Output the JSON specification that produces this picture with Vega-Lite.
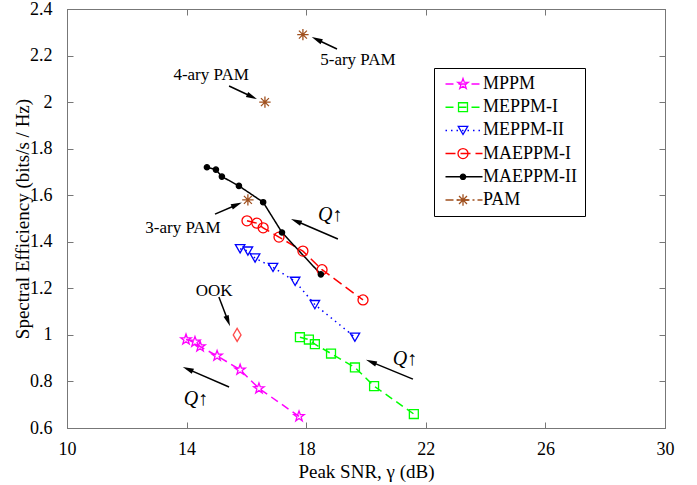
{
  "$schema": "https://vega.github.io/schema/vega-lite/v6.json",
  "width": 598,
  "height": 419,
  "autosize": {"type": "none"},
  "padding": {"left": 67, "top": 9, "right": 32, "bottom": 57},
  "background": "white",
  "config": {
    "view": {"stroke": "#777", "strokeWidth": 1},
    "font": "Liberation Serif, Times New Roman, DejaVu Serif, serif",
    "axis": {
      "grid": false,
      "labelFont": "Liberation Serif, Times New Roman, DejaVu Serif, serif",
      "labelFontSize": 18,
      "labelColor": "#000",
      "titleFont": "Liberation Serif, Times New Roman, DejaVu Serif, serif",
      "titleFontSize": 19,
      "titleFontWeight": "normal",
      "titleColor": "#000",
      "domainColor": "#777",
      "tickColor": "#777",
      "tickSize": -6,
      "labelFlush": false,
      "labelOverlap": false
    },
    "legend": {
      "labelFont": "Liberation Serif, Times New Roman, DejaVu Serif, serif",
      "labelFontSize": 18,
      "labelColor": "#000"
    }
  },
  "datasets": {
    "series": [
      {"series": "MPPM", "snr": 13.98, "se": 0.98},
      {"series": "MPPM", "snr": 14.28, "se": 0.97},
      {"series": "MPPM", "snr": 14.45, "se": 0.95},
      {"series": "MPPM", "snr": 15.02, "se": 0.91},
      {"series": "MPPM", "snr": 15.79, "se": 0.85},
      {"series": "MPPM", "snr": 16.42, "se": 0.77},
      {"series": "MPPM", "snr": 17.76, "se": 0.65},
      {"series": "MEPPM-I", "snr": 17.79, "se": 0.99},
      {"series": "MEPPM-I", "snr": 18.09, "se": 0.98},
      {"series": "MEPPM-I", "snr": 18.29, "se": 0.96},
      {"series": "MEPPM-I", "snr": 18.83, "se": 0.92},
      {"series": "MEPPM-I", "snr": 19.63, "se": 0.86},
      {"series": "MEPPM-I", "snr": 20.27, "se": 0.78},
      {"series": "MEPPM-I", "snr": 21.6, "se": 0.66},
      {"series": "MEPPM-II", "snr": 15.79, "se": 1.37},
      {"series": "MEPPM-II", "snr": 16.05, "se": 1.36},
      {"series": "MEPPM-II", "snr": 16.29, "se": 1.33},
      {"series": "MEPPM-II", "snr": 16.89, "se": 1.29},
      {"series": "MEPPM-II", "snr": 17.63, "se": 1.23},
      {"series": "MEPPM-II", "snr": 18.29, "se": 1.13},
      {"series": "MEPPM-II", "snr": 19.63, "se": 0.99},
      {"series": "MAEPPM-I", "snr": 16.02, "se": 1.49},
      {"series": "MAEPPM-I", "snr": 16.35, "se": 1.48},
      {"series": "MAEPPM-I", "snr": 16.56, "se": 1.46},
      {"series": "MAEPPM-I", "snr": 17.09, "se": 1.42},
      {"series": "MAEPPM-I", "snr": 17.89, "se": 1.36},
      {"series": "MAEPPM-I", "snr": 18.53, "se": 1.28},
      {"series": "MAEPPM-I", "snr": 19.9, "se": 1.15},
      {"series": "MAEPPM-II", "snr": 14.68, "se": 1.72},
      {"series": "MAEPPM-II", "snr": 14.98, "se": 1.71},
      {"series": "MAEPPM-II", "snr": 15.18, "se": 1.68},
      {"series": "MAEPPM-II", "snr": 15.75, "se": 1.64},
      {"series": "MAEPPM-II", "snr": 16.56, "se": 1.57},
      {"series": "MAEPPM-II", "snr": 17.19, "se": 1.44},
      {"series": "MAEPPM-II", "snr": 18.49, "se": 1.26},
      {"series": "PAM", "snr": 16.05, "se": 1.58},
      {"series": "PAM", "snr": 16.62, "se": 2.0},
      {"series": "PAM", "snr": 17.89, "se": 2.29}
    ],
    "ook": [{"snr": 15.69, "se": 1.0}],
    "arrows": [
      {"x": 19.03, "y": 2.228, "x2": 18.37, "y2": 2.268, "angle": 295.6},
      {"x": 15.42, "y": 2.069, "x2": 16.17, "y2": 2.024, "angle": 114.9},
      {"x": 14.95, "y": 1.519, "x2": 15.66, "y2": 1.558, "angle": 67.1},
      {"x": 15.08, "y": 1.163, "x2": 15.38, "y2": 1.062, "angle": 159.2},
      {"x": 19.06, "y": 1.412, "x2": 17.68, "y2": 1.488, "angle": 293.1},
      {"x": 21.57, "y": 0.81, "x2": 20.19, "y2": 0.883, "angle": 292},
      {"x": 15.42, "y": 0.776, "x2": 14.06, "y2": 0.852, "angle": 293.5}
    ],
    "labels": [
      {"text": "5-ary PAM", "x": 19.73, "y": 2.181},
      {"text": "4-ary PAM", "x": 14.82, "y": 2.116},
      {"text": "3-ary PAM", "x": 13.88, "y": 1.459},
      {"text": "OOK", "x": 14.92, "y": 1.188}
    ],
    "qlabels": [
      {"text": "Q↑", "x": 18.8, "y": 1.515},
      {"text": "Q↑", "x": 21.3, "y": 0.896},
      {"text": "Q↑", "x": 14.31, "y": 0.725}
    ]
  },
  "resolve": {
    "axis": {"x": "independent", "y": "independent"},
    "legend": {"stroke": "independent", "strokeDash": "independent", "shape": "independent", "fill": "independent", "size": "independent"}
  },
  "layer": [
    {
      "data": {"name": "series"},
      "transform": [{"filter": "datum.series !== 'PAM'"}],
      "mark": {"type": "line", "strokeWidth": 1.5},
      "encoding": {
        "x": {"field": "snr", "type": "quantitative", "scale": {"domain": [10, 30], "nice": false, "zero": false},
              "axis": {"orient": "bottom", "title": "Peak SNR, γ (dB)", "values": [10, 14, 18, 22, 26, 30], "labelPadding": 18, "titlePadding": 4}},
        "y": {"field": "se", "type": "quantitative", "scale": {"domain": [0.6, 2.4], "nice": false, "zero": false},
              "axis": {"orient": "left", "title": "Spectral Efficiency (bits/s / Hz)", "values": [0.6, 0.8, 1, 1.2, 1.4, 1.6, 1.8, 2, 2.2, 2.4], "format": "~g", "labelPadding": 21, "titlePadding": -3}},
        "stroke": {"field": "series", "type": "nominal",
          "scale": {"domain": ["MPPM", "MEPPM-I", "MEPPM-II", "MAEPPM-I", "MAEPPM-II", "PAM"], "range": ["#ff00ff", "#00ff00", "#0000ff", "#ff0000", "#000000", "#a0501e"]},
          "legend": {"title": null, "orient": "none", "legendX": 367, "legendY": 59, "symbolType": "M-3.7,0L3.7,0", "symbolSize": 100, "symbolOffset": 14, "symbolStrokeWidth": 1.5, "strokeColor": "#000", "fillColor": "#fff", "padding": 7, "rowPadding": 5.2, "labelOffset": 10, "labelExpr": "datum.label + '       '"}},
        "strokeDash": {"field": "series", "type": "nominal",
          "scale": {"domain": ["MPPM", "MEPPM-I", "MEPPM-II", "MAEPPM-I", "MAEPPM-II", "PAM"], "range": [[8, 5], [8, 5], [1.5, 4], [10, 5], [1, 0], [8, 3, 2, 3]]},
          "legend": {"title": null, "orient": "none", "legendX": 367, "legendY": 59, "symbolType": "M-3.7,0L3.7,0", "symbolSize": 100, "symbolOffset": 14, "symbolStrokeWidth": 1.5, "strokeColor": "#000", "fillColor": "#fff", "padding": 7, "rowPadding": 5.2, "labelOffset": 10, "labelExpr": "datum.label + '       '"}}
      }
    },
    {
      "data": {"name": "series"},
      "mark": {"type": "point", "strokeWidth": 1.3, "opacity": 1},
      "encoding": {
        "x": {"field": "snr", "type": "quantitative", "scale": {"domain": [10, 30], "nice": false, "zero": false},
              "axis": {"orient": "top", "title": null, "labels": false, "values": [10, 14, 18, 22, 26, 30]}},
        "y": {"field": "se", "type": "quantitative", "scale": {"domain": [0.6, 2.4], "nice": false, "zero": false},
              "axis": {"orient": "right", "title": null, "labels": false, "values": [0.6, 0.8, 1, 1.2, 1.4, 1.6, 1.8, 2, 2.2, 2.4]}},
        "stroke": {"field": "series", "type": "nominal",
          "scale": {"domain": ["MPPM", "MEPPM-I", "MEPPM-II", "MAEPPM-I", "MAEPPM-II", "PAM"], "range": ["#ff00ff", "#00ff00", "#0000ff", "#ff0000", "#000000", "#a0501e"]},
          "legend": {"title": null, "orient": "none", "legendX": 380, "legendY": 59, "labelExpr": "' '", "padding": 7, "rowPadding": 5.2, "labelOffset": 5, "symbolStrokeWidth": 1.3}},
        "shape": {"field": "series", "type": "nominal",
          "scale": {"domain": ["MPPM", "MEPPM-I", "MEPPM-II", "MAEPPM-I", "MAEPPM-II", "PAM"],
                    "range": ["M0,-1L0.235,-0.324L0.951,-0.309L0.38,0.124L0.588,0.809L0,0.4L-0.588,0.809L-0.38,0.124L-0.951,-0.309L-0.235,-0.324Z", "square", "triangle-down", "circle", "circle", "M0,-1L0,1M-1,0L1,0M-0.7,-0.7L0.7,0.7M-0.7,0.7L0.7,-0.7"]},
          "legend": {"title": null, "orient": "none", "legendX": 380, "legendY": 59, "labelExpr": "' '", "padding": 7, "rowPadding": 5.2, "labelOffset": 5, "symbolStrokeWidth": 1.3}},
        "fill": {"field": "series", "type": "nominal",
          "scale": {"domain": ["MPPM", "MEPPM-I", "MEPPM-II", "MAEPPM-I", "MAEPPM-II", "PAM"], "range": ["transparent", "transparent", "transparent", "transparent", "#000000", "transparent"]},
          "legend": {"title": null, "orient": "none", "legendX": 380, "legendY": 59, "labelExpr": "' '", "padding": 7, "rowPadding": 5.2, "labelOffset": 5, "symbolStrokeWidth": 1.3}},
        "size": {"field": "series", "type": "nominal",
          "scale": {"type": "ordinal", "domain": ["MPPM", "MEPPM-I", "MEPPM-II", "MAEPPM-I", "MAEPPM-II", "PAM"], "range": [120, 80, 90, 100, 28, 130]},
          "legend": {"title": null, "orient": "none", "legendX": 380, "legendY": 59, "labelExpr": "' '", "padding": 7, "rowPadding": 5.2, "labelOffset": 5, "symbolStrokeWidth": 1.3}}
      }
    },
    {
      "data": {"name": "ook"},
      "mark": {"type": "point", "shape": "M0,-1L0.6,0L0,1L-0.6,0Z", "size": 170, "stroke": "#ff0000", "strokeWidth": 1.3, "filled": false},
      "encoding": {
        "x": {"field": "snr", "type": "quantitative", "scale": {"domain": [10, 30], "nice": false, "zero": false}, "axis": null},
        "y": {"field": "se", "type": "quantitative", "scale": {"domain": [0.6, 2.4], "nice": false, "zero": false}, "axis": null}
      }
    },
    {
      "data": {"name": "arrows"},
      "mark": {"type": "rule", "color": "#000", "strokeWidth": 1.5},
      "encoding": {
        "x": {"field": "x", "type": "quantitative", "scale": {"domain": [10, 30], "nice": false, "zero": false}, "axis": null},
        "y": {"field": "y", "type": "quantitative", "scale": {"domain": [0.6, 2.4], "nice": false, "zero": false}, "axis": null},
        "x2": {"field": "x2"},
        "y2": {"field": "y2"}
      }
    },
    {
      "data": {"name": "arrows"},
      "mark": {"type": "point", "shape": "M0,-1L0.45,0.8L-0.45,0.8Z", "size": 150, "filled": true, "color": "#000", "opacity": 1},
      "encoding": {
        "x": {"field": "x2", "type": "quantitative", "scale": {"domain": [10, 30], "nice": false, "zero": false}, "axis": null},
        "y": {"field": "y2", "type": "quantitative", "scale": {"domain": [0.6, 2.4], "nice": false, "zero": false}, "axis": null},
        "angle": {"field": "angle", "type": "quantitative", "scale": null}
      }
    },
    {
      "data": {"name": "labels"},
      "mark": {"type": "text", "font": "Liberation Serif, Times New Roman, DejaVu Serif, serif", "fontSize": 17, "color": "#000", "align": "center", "baseline": "middle"},
      "encoding": {
        "x": {"field": "x", "type": "quantitative", "scale": {"domain": [10, 30], "nice": false, "zero": false}, "axis": null},
        "y": {"field": "y", "type": "quantitative", "scale": {"domain": [0.6, 2.4], "nice": false, "zero": false}, "axis": null},
        "text": {"field": "text"}
      }
    },
    {
      "data": {"name": "qlabels"},
      "mark": {"type": "text", "font": "Liberation Serif, Times New Roman, DejaVu Serif, serif", "fontSize": 20, "fontStyle": "italic", "color": "#000", "align": "center", "baseline": "middle"},
      "encoding": {
        "x": {"field": "x", "type": "quantitative", "scale": {"domain": [10, 30], "nice": false, "zero": false}, "axis": null},
        "y": {"field": "y", "type": "quantitative", "scale": {"domain": [0.6, 2.4], "nice": false, "zero": false}, "axis": null},
        "text": {"field": "text"}
      }
    }
  ]
}
